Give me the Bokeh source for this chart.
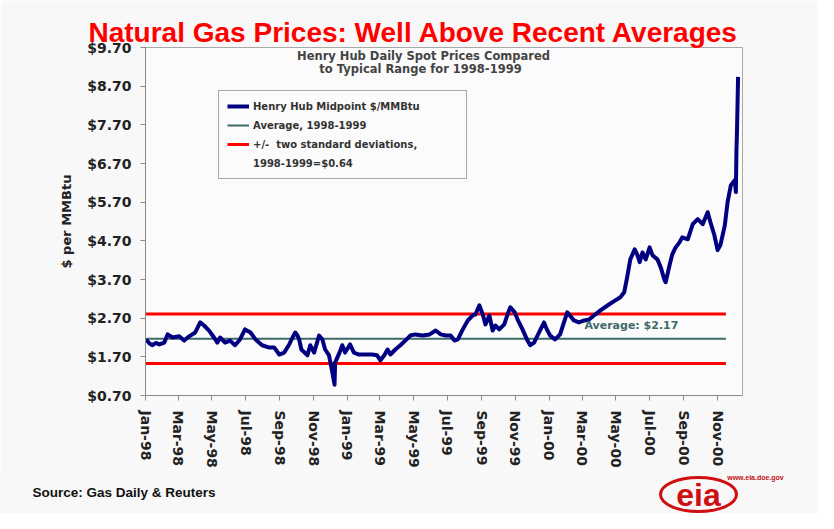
from datetime import datetime
from bokeh.plotting import figure
from bokeh.layouts import column
from bokeh.models import (Range1d, FixedTicker, NumeralTickFormatter, DatetimeTickFormatter,
                          Label, Legend, LegendItem)
from bokeh.core.properties import value
from bokeh.embed import file_html
from bokeh.resources import INLINE

# ---------------- data ----------------
price_dates = [
    "1998-01-02", "1998-01-08", "1998-01-13", "1998-01-20", "1998-01-26", "1998-02-04", "1998-02-10",
    "1998-02-19", "1998-03-03", "1998-03-12", "1998-03-21", "1998-04-01", "1998-04-10", "1998-04-17",
    "1998-04-26", "1998-05-05", "1998-05-11", "1998-05-16", "1998-05-25", "1998-06-03", "1998-06-12",
    "1998-06-21", "1998-06-30", "1998-07-10", "1998-07-19", "1998-07-31", "1998-08-13", "1998-08-22",
    "1998-08-31", "1998-09-09", "1998-09-18", "1998-09-24", "1998-09-29", "1998-10-03", "1998-10-06",
    "1998-10-10", "1998-10-21", "1998-10-26", "1998-11-02", "1998-11-11", "1998-11-17", "1998-11-22",
    "1998-11-29", "1998-12-05", "1998-12-09", "1998-12-10", "1998-12-18", "1998-12-23", "1998-12-28",
    "1999-01-06", "1999-01-13", "1999-01-22", "1999-02-02", "1999-02-15", "1999-02-24", "1999-03-02",
    "1999-03-09", "1999-03-15", "1999-03-20", "1999-03-29", "1999-04-07", "1999-04-16", "1999-04-25",
    "1999-05-04", "1999-05-17", "1999-05-30", "1999-06-10", "1999-06-19", "1999-06-28", "1999-07-07",
    "1999-07-14", "1999-07-20", "1999-07-29", "1999-08-07", "1999-08-16", "1999-08-21", "1999-08-28",
    "1999-09-03", "1999-09-08", "1999-09-15", "1999-09-21", "1999-09-26", "1999-10-03", "1999-10-12",
    "1999-10-18", "1999-10-23", "1999-10-31", "1999-11-05", "1999-11-14", "1999-11-23", "1999-11-28",
    "1999-12-05", "1999-12-14", "1999-12-23", "1999-12-28", "2000-01-03", "2000-01-12", "2000-01-21",
    "2000-01-28", "2000-02-03", "2000-02-08", "2000-02-15", "2000-02-24", "2000-03-05", "2000-03-14",
    "2000-03-25", "2000-04-03", "2000-04-19", "2000-04-30", "2000-05-09", "2000-05-16", "2000-05-22",
    "2000-05-27", "2000-06-04", "2000-06-09", "2000-06-13", "2000-06-18", "2000-06-24", "2000-07-01",
    "2000-07-06", "2000-07-15", "2000-07-21", "2000-07-28", "2000-07-30", "2000-08-06", "2000-08-11",
    "2000-08-17", "2000-08-24", "2000-08-29", "2000-09-08", "2000-09-17", "2000-09-26", "2000-10-05",
    "2000-10-14", "2000-10-19", "2000-10-26", "2000-11-01", "2000-11-06", "2000-11-14", "2000-11-19",
    "2000-11-25", "2000-12-02", "2000-12-04", "2000-12-05", "2000-12-06", "2000-12-08",
]
price_values = [
    2.15, 2.05, 2.00, 2.06, 2.02, 2.07, 2.28,
    2.20, 2.23, 2.12, 2.23, 2.33, 2.59, 2.51,
    2.38, 2.20, 2.07, 2.20, 2.07, 2.12, 2.00,
    2.15, 2.41, 2.33, 2.15, 2.00, 1.94, 1.94,
    1.76, 1.81, 2.02, 2.20, 2.33, 2.25, 2.15,
    1.89, 1.74, 2.00, 1.81, 2.25, 2.15, 1.89,
    1.74, 1.30, 0.98, 1.55, 1.81, 2.00, 1.81,
    2.02, 1.81, 1.76, 1.76, 1.76, 1.74, 1.61,
    1.74, 1.89, 1.76, 1.89, 2.00, 2.12, 2.25,
    2.28, 2.25, 2.28, 2.38, 2.28, 2.25, 2.25,
    2.12, 2.15, 2.41, 2.64, 2.77, 2.80, 3.03,
    2.80, 2.54, 2.77, 2.38, 2.51, 2.41, 2.54,
    2.80, 2.98, 2.85, 2.67, 2.41, 2.12, 2.00,
    2.07, 2.33, 2.59, 2.41, 2.25, 2.15, 2.28,
    2.59, 2.85, 2.77, 2.64, 2.59, 2.64, 2.67,
    2.80, 2.90, 3.06, 3.16, 3.24, 3.37, 3.81,
    4.22, 4.48, 4.33, 4.15, 4.40, 4.22, 4.53,
    4.33, 4.22, 4.02, 3.68, 3.63, 4.07, 4.35,
    4.53, 4.66, 4.79, 4.74, 5.13, 5.26, 5.13,
    5.44, 5.18, 4.85, 4.46, 4.59, 5.10, 5.70,
    6.14, 6.27, 5.96, 7.00, 7.51, 8.94,
]
average_value = 2.17
two_std = 0.64
band_dates = ["1998-01-01", "2000-11-16"]
tick_dates = ["1998-01-01", "1998-03-01", "1998-05-01", "1998-07-01", "1998-09-01", "1998-11-01",
              "1999-01-01", "1999-03-01", "1999-05-01", "1999-07-01", "1999-09-01", "1999-11-01",
              "2000-01-01", "2000-03-01", "2000-05-01", "2000-07-01", "2000-09-01", "2000-11-01"]
y_ticks = [0.7, 1.7, 2.7, 3.7, 4.7, 5.7, 6.7, 7.7, 8.7, 9.7]

# ---------------- styling ----------------
def d(s):
    return datetime.strptime(s, "%Y-%m-%d")

BG = "#f8f8f8"
NAVY = "#000080"
AVG = "#3e6a6a"
RED = "#ff0000"
FONT = "DejaVu Sans"
ARIAL = "Liberation Sans"
W = 818

p = figure(width=W, height=470, output_backend="svg", toolbar_location=None,
           x_axis_type="datetime",
           x_range=Range1d(d("1998-01-01"), d("2000-12-16")),
           y_range=Range1d(0.7, 9.7),
           min_border_left=145, min_border_right=76, min_border_top=47, min_border_bottom=74)
p.frame_align = False
p.background_fill_color = "#fbfbfb"
p.border_fill_color = BG
p.outline_line_color = "#a8a8a8"
p.outline_line_width = 1
p.xgrid.visible = False
p.ygrid.visible = False

p.title.text = "Natural Gas Prices: Well Above Recent Averages"
p.title.text_font = ARIAL
p.title.text_font_style = "bold"
p.title.text_font_size = "28px"
p.title.text_color = "#ff0000"
p.title.align = "left"
p.title.offset = -57
p.title.standoff = 0

# axes
p.yaxis.ticker = FixedTicker(ticks=y_ticks)
p.yaxis.formatter = NumeralTickFormatter(format="$0.00")
p.yaxis.minor_tick_line_color = None
p.yaxis.major_tick_in = 0
p.yaxis.major_tick_out = 5
p.yaxis.major_label_standoff = 9
p.yaxis.major_label_text_font = FONT
p.yaxis.major_label_text_font_style = "bold"
p.yaxis.major_label_text_font_size = "14px"
p.yaxis.major_label_text_color = "#222222"
p.yaxis.axis_label = "$ per MMBtu"
p.yaxis.axis_label_text_font = FONT
p.yaxis.axis_label_text_font_style = "bold"
p.yaxis.axis_label_text_font_size = "13px"
p.yaxis.axis_label_text_color = "#222222"
p.yaxis.axis_label_standoff = 10

p.xaxis.ticker = FixedTicker(ticks=[d(s).timestamp() * 1000 for s in tick_dates])
fmt = "%b-%y"
p.xaxis.formatter = DatetimeTickFormatter(milliseconds=fmt, seconds=fmt, minsec=fmt, minutes=fmt,
                                          hourmin=fmt, hours=fmt, days=fmt, months=fmt, years=fmt)
p.xaxis.minor_tick_line_color = None
p.xaxis.major_tick_in = 0
p.xaxis.major_tick_out = 5
p.xaxis.major_label_orientation = "vertical"
p.xaxis.major_label_standoff = 10
p.xaxis.major_label_text_font = FONT
p.xaxis.major_label_text_font_style = "bold"
p.xaxis.major_label_text_font_size = "14px"
p.xaxis.major_label_text_color = "#222222"

for ax in (p.xaxis, p.yaxis):
    ax.axis_line_color = "#8a8a8a"
    ax.major_tick_line_color = "#8a8a8a"

# data lines
band_x = [d(s) for s in band_dates]
r_avg = p.line(band_x, [average_value] * 2, line_color=AVG, line_width=2)
r_up = p.line(band_x, [average_value + two_std] * 2, line_color=RED, line_width=3)
p.line(band_x, [average_value - two_std] * 2, line_color=RED, line_width=3)
r_price = p.line([d(s) for s in price_dates], price_values, line_color=NAVY, line_width=4,
                 line_join="round")
r_dummy = p.line([], [], line_alpha=0)

# legend
legend = Legend(items=[
    LegendItem(label="Henry Hub Midpoint $/MMBtu", renderers=[r_price]),
    LegendItem(label="Average, 1998-1999", renderers=[r_avg]),
    LegendItem(label="+/-  two standard deviations,", renderers=[r_up]),
    LegendItem(label="1998-1999=$0.64", renderers=[r_dummy]),
], location=(73, 216))
legend.label_text_font = FONT
legend.label_text_font_style = "bold"
legend.label_text_font_size = "10px"
legend.label_text_color = "#333333"
legend.glyph_width = 22
legend.glyph_height = 14
legend.label_height = 14
legend.label_width = 205
legend.spacing = 5
legend.padding = 8
legend.label_standoff = 4
legend.border_line_color = "#555555"
legend.border_line_width = 1
legend.background_fill_color = "#fbfbfb"
legend.background_fill_alpha = 1
p.add_layout(legend)

# texts inside the plot area
p.add_layout(Label(x=d("2000-03-05"), y=2.51, text="Average: $2.17", text_font=FONT,
                   text_font_style="bold", text_font_size="11px", text_color=AVG,
                   text_align="left", text_baseline="middle"))
p.add_layout(Label(x=278, y=340, x_units="screen", y_units="screen",
                   text="Henry Hub Daily Spot Prices Compared", text_font=FONT,
                   text_font_style="bold", text_font_size="11.5px", text_color="#444444",
                   text_align="center", text_baseline="middle"))
p.add_layout(Label(x=275, y=327, x_units="screen", y_units="screen",
                   text="to Typical Range for 1998-1999", text_font=FONT,
                   text_font_style="bold", text_font_size="11.5px", text_color="#444444",
                   text_align="center", text_baseline="middle"))

# bottom strip: source note and logo
b = figure(width=W, height=43, output_backend="svg", toolbar_location=None,
           x_range=Range1d(0, W), y_range=Range1d(0, 43),
           min_border=0, min_border_left=0, min_border_right=0, min_border_top=0,
           min_border_bottom=0)
b.frame_align = False
b.axis.visible = False
b.grid.visible = False
b.outline_line_color = None
b.background_fill_color = BG
b.border_fill_color = BG
b.text(x=[32], y=[21], text=["Source: Gas Daily & Reuters"], text_font=value(ARIAL),
       text_font_style="bold", text_font_size="13.5px", text_color="#111111",
       text_align="left", text_baseline="middle")
b.ellipse(x=[698], y=[19], width=76, height=34, fill_color=None, line_color="#d01010",
          line_width=3)
b.text(x=[698], y=[19], text=["eia"], text_font=value(ARIAL), text_font_style="bold",
       text_font_size="32px", text_color="#d01010", text_align="center",
       text_baseline="middle")
b.text(x=[755], y=[36], text=["www.eia.doe.gov"], text_font=value(ARIAL),
       text_font_style="bold", text_font_size="7px", text_color="#c01010",
       text_align="center", text_baseline="middle")

layout = column(p, b, spacing=0)
open("out.html", "w").write(file_html(layout, INLINE))
